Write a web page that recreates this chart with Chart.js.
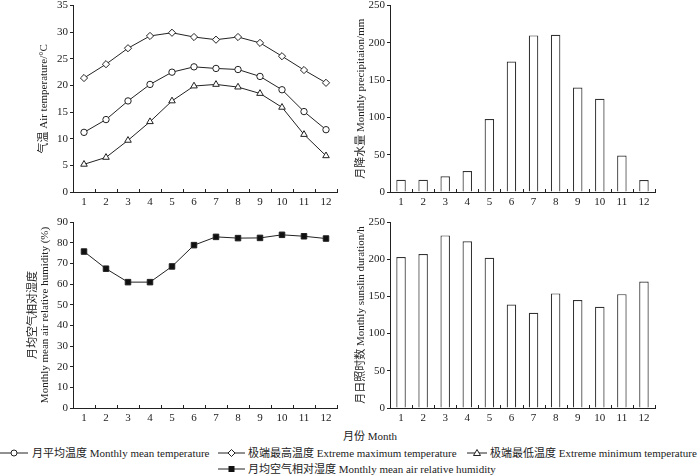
<!DOCTYPE html>
<html>
<head>
<meta charset="utf-8">
<script src="https://cdn.jsdelivr.net/npm/chart.js@4"></script>
<style>
    body { margin: 0; background: #fff; }
    #wrap { position: relative; width: 700px; height: 476px; overflow: hidden; font-family: 'Liberation Serif', 'Noto Sans CJK SC', serif; font-size: 11px; color: #222; }
    canvas { position: absolute; }
    .txt { position: absolute; white-space: nowrap; line-height: 12px; }
    .mk { position: absolute; }
</style>
</head>
<body>
<div id="wrap">
    <canvas id="tempChart" style="left:0;top:-3px;width:350px;height:213px" width="350" height="213"></canvas>
    <canvas id="rainChart" style="left:350px;top:-3px;width:350px;height:213px" width="350" height="213"></canvas>
    <canvas id="humChart" style="left:0;top:205px;width:350px;height:221px" width="350" height="221"></canvas>
    <canvas id="sunChart" style="left:350px;top:205px;width:350px;height:221px" width="350" height="221"></canvas>

    <div class="txt" style="left:343px;top:430px">月份 Month</div>

    <svg class="mk" style="left:0;top:448px" width="28" height="10"><line x1="0" y1="5" x2="28" y2="5" stroke="#222"/><circle cx="14" cy="5" r="3" fill="#fff" stroke="#222"/></svg>
    <div class="txt" style="left:32px;top:447px">月平均温度 Monthly mean temperature</div>
    <svg class="mk" style="left:218px;top:448px" width="27" height="10"><line x1="0" y1="5" x2="27" y2="5" stroke="#222"/><path d="M13.5 1.5 L17 5 L13.5 8.5 L10 5 Z" fill="#fff" stroke="#222"/></svg>
    <div class="txt" style="left:248px;top:447px">极端最高温度 Extreme maximum temperature</div>
    <svg class="mk" style="left:467px;top:448px" width="20" height="10"><line x1="0" y1="5" x2="20" y2="5" stroke="#222"/><path d="M10 1.5 L13.5 7.5 L6.5 7.5 Z" fill="#fff" stroke="#222"/></svg>
    <div class="txt" style="left:490px;top:447px">极端最低温度 Extreme minimum temperature</div>

    <svg class="mk" style="left:218px;top:464px" width="27" height="10"><line x1="0" y1="5" x2="27" y2="5" stroke="#222"/><rect x="10.5" y="2" width="6" height="6" fill="#111"/></svg>
    <div class="txt" style="left:248px;top:463px">月均空气相对湿度 Monthly mean air relative humidity</div>
</div>
<script>
const months = ['1', '2', '3', '4', '5', '6', '7', '8', '9', '10', '11', '12'];
const meanTemp = [11.2, 13.6, 17.1, 20.2, 22.5, 23.5, 23.2, 23.0, 21.7, 19.2, 15.1, 11.7];
const maxTemp = [21.4, 24.0, 27.0, 29.3, 29.9, 29.1, 28.6, 29.1, 28.0, 25.5, 22.9, 20.5];
const minTemp = [5.2, 6.5, 9.7, 13.2, 17.1, 19.9, 20.2, 19.7, 18.5, 15.9, 10.8, 6.8];
const precipitation = [16.5, 16.5, 21, 28, 98, 175, 210, 211, 140, 125, 49, 16];
const humidity = [75.7, 67.4, 60.9, 60.9, 68.5, 78.8, 82.8, 82.2, 82.3, 83.8, 83.1, 82.0];
const sunshine = [203, 207, 232, 224, 202, 139, 128, 154, 145, 136, 153, 170];

const FONT = "'Liberation Serif', 'Noto Sans CJK SC', serif";
const INK = '#222';

// small inward ticks between the months on the x axis
const innerTicks = {
    id: 'innerTicks',
    afterDraw(chart) {
        const x = chart.scales.x;
        const area = chart.chartArea;
        const ctx = chart.ctx;
        ctx.save();
        ctx.strokeStyle = INK;
        ctx.lineWidth = 1;
        for (let i = 1; i <= months.length; i++) {
            const px = Math.round(x.getPixelForValue(i - 0.5)) + 0.5;
            ctx.beginPath();
            ctx.moveTo(px, area.bottom);
            ctx.lineTo(px, area.bottom - 3);
            ctx.stroke();
        }
        ctx.restore();
    }
};

function buildOptions(yMax, yStep, yTitle, yWidth, titlePad, pad) {
    return {
        responsive: false,
        animation: false,
        layout: { padding: pad },
        plugins: { legend: { display: false }, tooltip: { enabled: false } },
        scales: {
            x: {
                offset: true,
                grid: { display: false, drawTicks: false },
                border: { display: true, color: INK, width: 1 },
                ticks: { color: INK, padding: 4, font: { family: FONT, size: 11 } },
                afterFit: s => { s.height = 18; }
            },
            y: {
                min: 0,
                max: yMax,
                ticks: { stepSize: yStep, color: INK, padding: 2, font: { family: FONT, size: 11 } },
                grid: { drawOnChartArea: false, tickLength: 3, color: INK },
                border: { display: true, color: INK, width: 1 },
                title: {
                    display: true,
                    text: yTitle,
                    color: INK,
                    padding: { top: titlePad, bottom: 0 },
                    font: { family: FONT, size: 11, lineHeight: 1.1 }
                },
                afterFit: s => { s.width = yWidth; }
            }
        }
    };
}

function lineSet(data, style, radius, fill) {
    return {
        data: data,
        borderColor: INK,
        borderWidth: 1,
        pointStyle: style,
        pointRadius: radius,
        pointBackgroundColor: fill,
        pointBorderColor: INK,
        pointBorderWidth: 1,
        tension: 0
    };
}

function barSet(data) {
    return {
        data: data,
        backgroundColor: '#fff',
        borderColor: '#333',
        borderWidth: 1.2,
        categoryPercentage: 1,
        barPercentage: 0.43
    };
}

new Chart(document.getElementById('tempChart'), {
    type: 'line',
    data: {
        labels: months,
        datasets: [
            lineSet(maxTemp, 'rectRot', 3.6, '#fff'),
            lineSet(meanTemp, 'circle', 3.2, '#fff'),
            lineSet(minTemp, 'triangle', 3.8, '#fff')
        ]
    },
    options: buildOptions(35, 5, '气温 Air temperature/°C', 73, 38, { top: 8, right: 13, left: 0, bottom: 0 }),
    plugins: [innerTicks]
});

new Chart(document.getElementById('rainChart'), {
    type: 'bar',
    data: { labels: months, datasets: [barSet(precipitation)] },
    options: buildOptions(250, 50, '月降水量 Monthly precipitaion/mm', 40, 5, { top: 8, right: 45, left: 0, bottom: 0 }),
    plugins: [innerTicks]
});

new Chart(document.getElementById('humChart'), {
    type: 'line',
    data: { labels: months, datasets: [lineSet(humidity, 'rect', 3.9, '#111')] },
    options: buildOptions(90, 10, ['月均空气相对湿度', 'Monthly mean air relative humidity (%)'], 73, 27, { top: 17, right: 13, left: 0, bottom: 0 }),
    plugins: [innerTicks]
});

new Chart(document.getElementById('sunChart'), {
    type: 'bar',
    data: { labels: months, datasets: [barSet(sunshine)] },
    options: buildOptions(250, 50, '月日照时数 Monthly sunslin duration/h', 40, 5, { top: 17, right: 45, left: 0, bottom: 0 }),
    plugins: [innerTicks]
});
</script>
</body>
</html>
